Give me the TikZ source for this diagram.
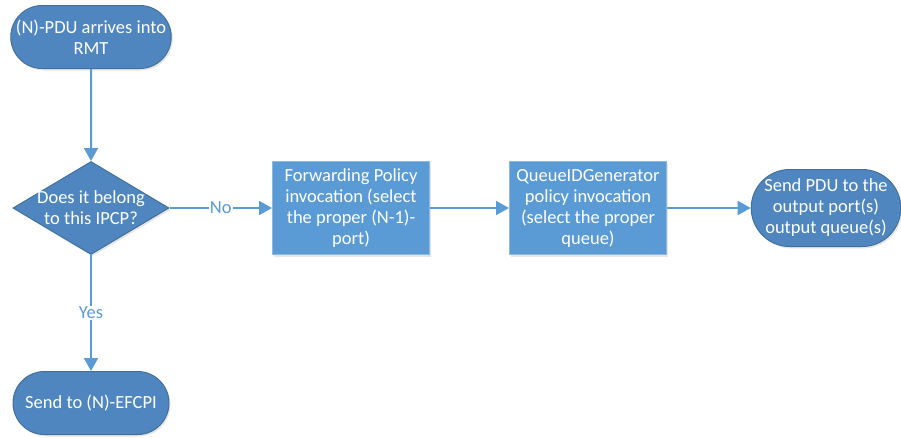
\documentclass[tikz,border=0pt]{standalone}
\usepackage{fontspec}
\setmainfont{Carlito}
\usetikzlibrary{shapes.geometric,shapes.misc,arrows.meta,shadows}
\definecolor{termblue}{HTML}{4F86BF}
\definecolor{termline}{HTML}{41719C}
\definecolor{boxblue}{HTML}{5B9BD5}
\definecolor{boxline}{HTML}{8FB8E0}
\tikzset{
  term/.style={rounded rectangle,draw=termline,fill=termblue,line width=1pt,text=white,align=center,inner sep=0pt,minimum height=63pt,drop shadow={opacity=0.2,shadow xshift=1.5pt,shadow yshift=-2pt}},
  decide/.style={diamond,draw=termline,fill=termblue,line width=1pt,text=white,align=center,inner sep=-8pt,aspect=1.7,minimum width=156pt,minimum height=93pt,drop shadow={opacity=0.2,shadow xshift=1.5pt,shadow yshift=-2pt}},
  procbox/.style={rectangle,draw=boxline,fill=boxblue,line width=1pt,text=white,align=center,minimum width=157pt,minimum height=93pt,drop shadow={opacity=0.2,shadow xshift=1.5pt,shadow yshift=-2pt}},
  flow/.style={boxblue,line width=2pt,-{Triangle[width=14pt,length=13pt]}},
  answer/.style={fill=white,text=boxblue,inner sep=1pt}
}
\begin{document}
\begin{tikzpicture}[x=1pt,y=-1pt,font=\fontsize{18.5}{21}\selectfont]
\useasboundingbox (0,0) rectangle (901,437);

\node (A) at (91,37) [term,minimum width=157pt]{(N)-PDU arrives into\\RMT};
\node (B) at (91,208) [decide]{Does it belong\\to this IPCP?};
\node (C) at (351,208) [procbox]{Forwarding Policy\\invocation (select\\the proper (N-1)-\\port)};
\node (D) at (588,208) [procbox]{QueueIDGenerator\\policy invocation\\(select the proper\\queue)};
\node (E) at (826,208) [term,minimum width=148pt,minimum height=77pt]{Send PDU to the\\output port(s)\\output queue(s)};
\node (F) at (91,403) [term,minimum width=156pt]{Send to (N)-EFCPI};

\draw[flow] (A)--(B);
\draw[flow] (B)--node[answer]{No}(C);
\draw[flow] (C)--(D);
\draw[flow] (D)--(E);
\draw[flow] (B)--node[answer]{Yes}(F);

\end{tikzpicture}
\end{document}
